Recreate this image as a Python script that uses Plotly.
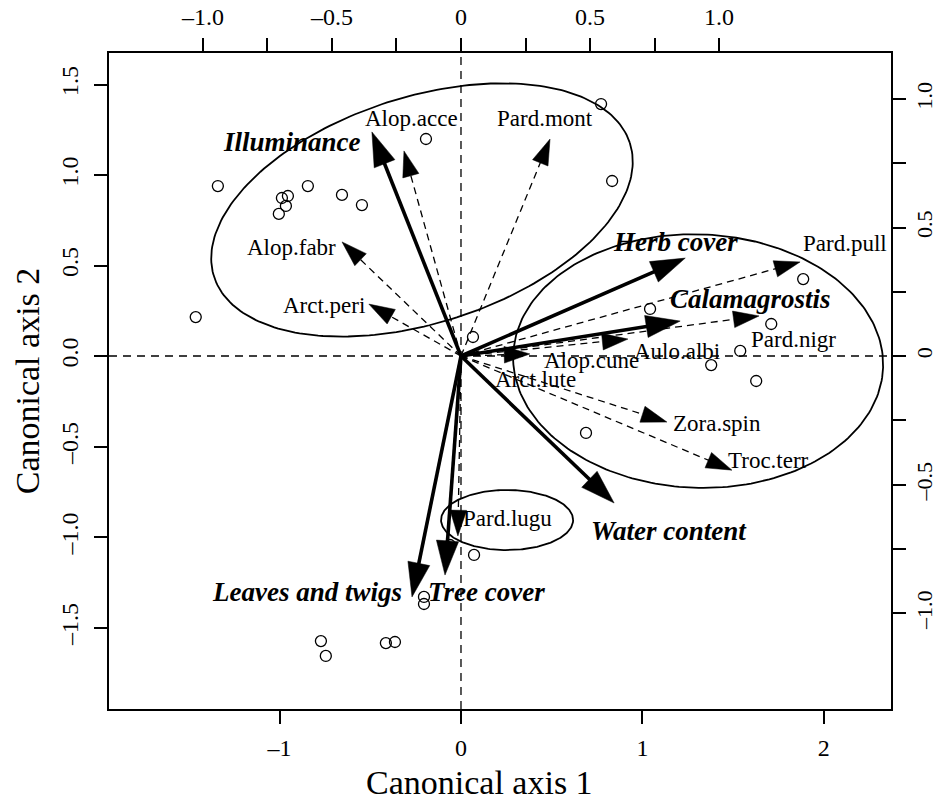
import math
import plotly.graph_objects as go

# ---- site scores (canonical axes 1 and 2, bottom/left scale) ----
site_x = [-1.462, -1.340, -0.987, -0.954, -0.965, -1.004, -0.844, -0.656, -0.546,
          -0.193, 0.772, 0.833, 0.066, 1.042, 1.886, 1.710, 1.539, 1.379, 1.627,
          0.689, 0.072, -0.061, -0.204, -0.204, -0.772, -0.745, -0.414, -0.364]
site_y = [0.215, 0.939, 0.873, 0.884, 0.829, 0.785, 0.939, 0.890, 0.834,
          1.199, 1.392, 0.967, 0.105, 0.260, 0.425, 0.177, 0.028, -0.050, -0.138,
          -0.425, -1.099, -1.044, -1.331, -1.370, -1.575, -1.657, -1.586, -1.580]

# ---- species scores (top/right scale) ----
species = ["Alop.acce", "Pard.mont", "Alop.fabr", "Arct.peri", "Pard.pull", "Pard.nigr",
           "Aulo.albi", "Alop.cune", "Zora.spin", "Troc.terr", "Pard.lugu"]
species_x = [-0.221, 0.345, -0.461, -0.357, 1.314, 1.155, 0.647, 0.267, 0.798, 1.050, -0.012]
species_y = [0.798, 0.844, 0.444, 0.202, 0.366, 0.156, 0.066, 0.008, -0.257, -0.444, -0.700]

# label positions for species names (top/right scale)
species_names = ["Alop.acce", "Pard.mont", "Alop.fabr", "Arct.peri", "Pard.pull", "Pard.nigr",
                 "Aulo.albi", "Alop.cune", "Arct.lute", "Zora.spin", "Troc.terr", "Pard.lugu"]
species_label_x = [-0.190, 0.326, -0.655, -0.531, 1.488, 1.287, 0.837, 0.504, 0.287, 0.992, 1.190, 0.182]
species_label_y = [0.926, 0.926, 0.424, 0.195, 0.436, 0.066, 0.016, -0.019, -0.093, -0.261, -0.405, -0.634]

# ---- environmental variables (bottom/left scale) ----
env = ["Illuminance", "Herb cover", "Calamagrostis", "Water content", "Leaves and twigs", "Tree cover"]
env_x = [-0.491, 1.236, 1.208, 0.844, -0.270, -0.088]
env_y = [1.238, 0.541, 0.193, -0.812, -1.331, -1.210]
env_label_x = [-0.932, 1.180, 1.594, 1.147, -0.849, 0.143]
env_label_y = [1.182, 0.630, 0.315, -0.967, -1.304, -1.304]

# ---- group ellipses: centre, semi-axes, rotation (degrees) ----
ell_cx = [-0.215, 1.307, 0.254]
ell_cy = [0.807, -0.028, -0.906]
ell_a = [1.204, 1.020, 0.364]
ell_b = [0.624, 0.700, 0.166]
ell_angle = [17.9, -2.0, 0.0]

# ---- axes ----
x_range = [-1.94, 2.37]
y_range = [-1.95, 1.674]
sec_scale_x = 0.7031   # top axis units per bottom axis unit
sec_scale_y = 0.7043   # right axis units per left axis unit

bottom_ticks = [-1, 0, 1, 2]
bottom_text = ["\u20131", "0", "1", "2"]
left_ticks = [-1.5, -1.0, -0.5, 0.0, 0.5, 1.0, 1.5]
left_text = ["\u20131.5", "\u20131.0", "\u20130.5", "0.0", "0.5", "1.0", "1.5"]
sec_ticks = [-1.0, -0.75, -0.5, -0.25, 0.0, 0.25, 0.5, 0.75, 1.0]
sec_text = ["\u20131.0", "", "\u20130.5", "", "0", "", "0.5", "", "1.0"]

SERIF = "Liberation Serif, Times New Roman, serif"

fig = go.Figure()

# ellipses
for cx, cy, a, b, ang in zip(ell_cx, ell_cy, ell_a, ell_b, ell_angle):
    th = math.radians(ang)
    xs, ys = [], []
    for i in range(241):
        t = 2 * math.pi * i / 240
        ex, ey = a * math.cos(t), b * math.sin(t)
        xs.append(cx + ex * math.cos(th) - ey * math.sin(th))
        ys.append(cy + ex * math.sin(th) + ey * math.cos(th))
    fig.add_trace(go.Scatter(x=xs, y=ys, mode="lines",
                             line=dict(color="black", width=1.8),
                             hoverinfo="skip", showlegend=False))

# sites
fig.add_trace(go.Scatter(x=site_x, y=site_y, mode="markers",
                         marker=dict(symbol="circle-open", size=11, color="black",
                                     line=dict(width=1.3, color="black")),
                         showlegend=False))

# species arrows (dashed, secondary axes)
for sx, sy in zip(species_x, species_y):
    fig.add_trace(go.Scatter(x=[0, sx], y=[0, sy], xaxis="x2", yaxis="y2",
                             mode="lines+markers",
                             line=dict(color="black", width=1.3, dash="7px,5px"),
                             marker=dict(symbol="arrow", angleref="previous",
                                         size=[0, 27], color="black", opacity=1,
                                         line=dict(color="black", width=0.5)),
                             hoverinfo="skip", showlegend=False))

# environmental arrows (bold)
for ex, ey in zip(env_x, env_y):
    fig.add_trace(go.Scatter(x=[0, ex], y=[0, ey], mode="lines+markers",
                             line=dict(color="black", width=3.6),
                             marker=dict(symbol="arrow", angleref="previous",
                                         size=[0, 36], color="black", opacity=1,
                                         line=dict(color="black", width=0.5)),
                             hoverinfo="skip", showlegend=False))

annotations = []
for name, lx, ly in zip(species_names, species_label_x, species_label_y):
    annotations.append(dict(x=lx, y=ly, xref="x2", yref="y2", text=name,
                            showarrow=False, xanchor="center", yanchor="middle",
                            font=dict(family=SERIF, size=23, color="black")))
for name, lx, ly in zip(env, env_label_x, env_label_y):
    annotations.append(dict(x=lx, y=ly, xref="x", yref="y", text=name,
                            showarrow=False, xanchor="center", yanchor="middle",
                            font=dict(family=SERIF, size=27, color="black",
                                      weight="bold", style="italic")))

# axis 1 title
annotations.append(dict(x=0.474, y=-0.112, xref="paper", yref="paper",
                        text="Canonical axis 1", showarrow=False,
                        xanchor="center", yanchor="middle",
                        font=dict(family=SERIF, size=34, color="black")))

# dashed zero lines
shapes = [
    dict(type="line", xref="x", yref="paper", x0=0, x1=0, y0=0, y1=1,
         line=dict(color="black", width=1.3, dash="8px,6px")),
    dict(type="line", xref="paper", yref="y", x0=0, x1=1, y0=0, y1=0,
         line=dict(color="black", width=1.3, dash="8px,6px")),
]

axis_common = dict(showgrid=False, zeroline=False, showline=True, linecolor="black",
                   linewidth=2, ticks="outside", ticklen=13, tickwidth=2, automargin=False,
                   tickcolor="black", tickfont=dict(family=SERIF, size=24, color="black"))

fig.update_layout(
    width=936, height=805,
    margin=dict(l=109, r=45, t=53, b=96),
    paper_bgcolor="white", plot_bgcolor="white",
    xaxis=dict(range=x_range, tickmode="array", tickvals=bottom_ticks, ticktext=bottom_text,
               ticklabelstandoff=3, **axis_common),
    yaxis=dict(range=y_range, tickmode="array", tickvals=left_ticks, ticktext=left_text,
               tickangle=-90,
               title=dict(text="Canonical axis 2", font=dict(family=SERIF, size=34, color="black"),
                          standoff=8),
               ticklabelstandoff=6, **axis_common),
    xaxis2=dict(range=[v * sec_scale_x for v in x_range], overlaying="x", side="top",
                anchor="y", tickmode="array", tickvals=sec_ticks, ticktext=sec_text,
                ticklabelstandoff=3, **axis_common),
    yaxis2=dict(range=[v * sec_scale_y for v in y_range], overlaying="y", side="right",
                anchor="x", tickmode="array", tickvals=sec_ticks, ticktext=sec_text,
                tickangle=-90, ticklabelstandoff=0, **axis_common),
    annotations=annotations,
    shapes=shapes,
)
fig.update_yaxes(tickfont=dict(size=22), selector=dict(side="right"))

fig.write_html("out.html")
